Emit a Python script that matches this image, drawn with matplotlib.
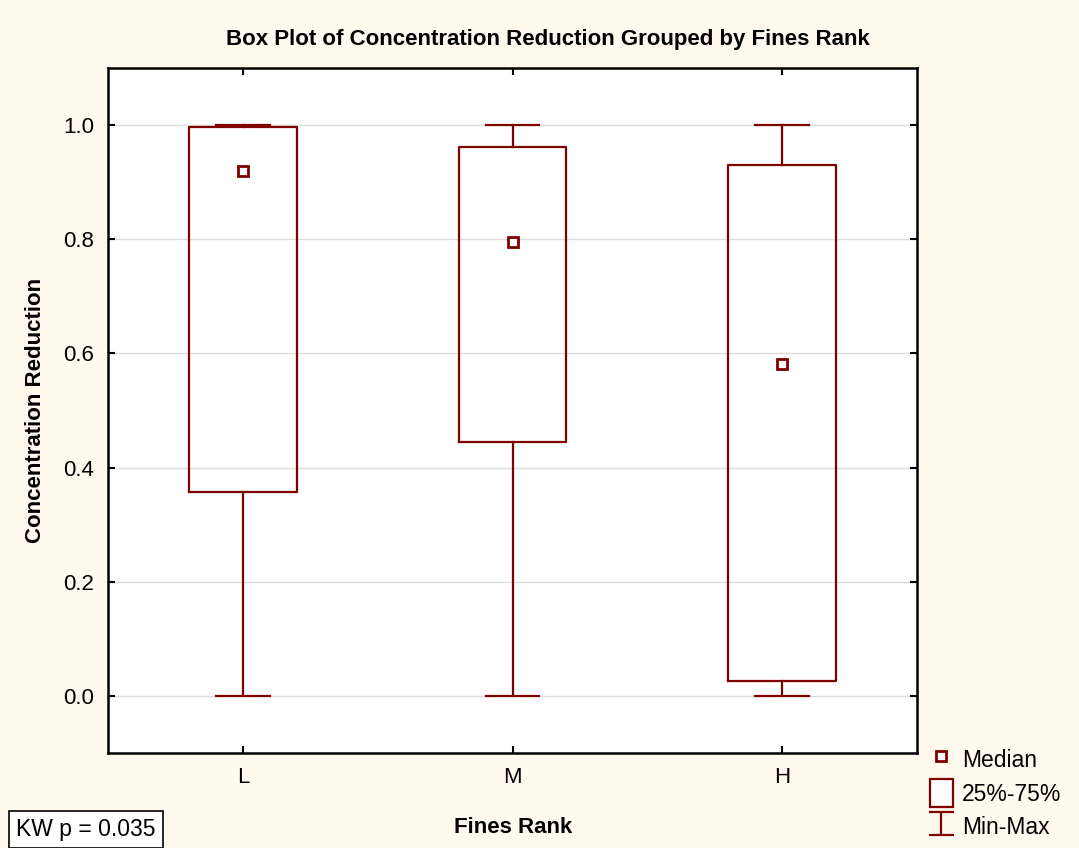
import matplotlib
matplotlib.use("Agg")
import matplotlib.pyplot as plt
from matplotlib.patches import Rectangle
from matplotlib.lines import Line2D
import numpy as np

plt.rcParams['font.family'] = ['Liberation Sans', 'DejaVu Sans']

groups = ['L', 'M', 'H']
mins = [0.0, 0.0, 0.0]
q1s = [0.358, 0.444, 0.026]
medians = [0.919, 0.796, 0.581]
q3s = [0.997, 0.961, 0.930]
maxs = [1.0, 1.0, 1.0]

red = '#800000'
bg = '#FFF9EE'

fig = plt.figure(figsize=(10.79, 8.48), dpi=100, facecolor=bg)
ax = fig.add_axes([0.1001, 0.112, 0.7498, 0.8078])

stats = []
for g, lo, a, m, b, hi in zip(groups, mins, q1s, medians, q3s, maxs):
    stats.append(dict(label=g, whislo=lo, q1=a, med=m, q3=b, whishi=hi, fliers=[]))

pos = np.arange(1, len(groups) + 1)
ax.bxp(stats, positions=pos, widths=0.4, capwidths=0.2, showfliers=False,
       boxprops=dict(color=red, lw=1.6),
       whiskerprops=dict(color=red, lw=1.6),
       capprops=dict(color=red, lw=1.6),
       medianprops=dict(visible=False))
ax.plot(pos, medians, 's', ms=7, mfc='white', mec=red, mew=2, ls='none', zorder=5)

ax.set_xlim(0.5, 3.5)
ax.set_ylim(-0.1, 1.1)
ax.set_yticks([0.0, 0.2, 0.4, 0.6, 0.8, 1.0])
ax.set_yticklabels(['0.0', '0.2', '0.4', '0.6', '0.8', '1.0'])
ax.set_xticks(pos)
ax.set_xticklabels(groups)
ax.yaxis.grid(True, color='#DDDDDD', lw=1)
ax.set_axisbelow(True)
ax.tick_params(direction='in', length=5, width=1.5, top=True, right=True,
               labelsize=16, pad=10, colors='black')
for s in ax.spines.values():
    s.set_linewidth(1.8)

fig.text(0.508, 0.953, 'Box Plot of Concentration Reduction Grouped by Fines Rank',
         ha='center', va='center', fontsize=16, fontweight='bold')
fig.text(0.033, 0.516, 'Concentration Reduction', rotation=90, ha='center',
         va='center', fontsize=16, fontweight='bold')
fig.text(0.476, 0.024, 'Fines Rank', ha='center', va='center', fontsize=16,
         fontweight='bold')
fig.text(0.015, 0.022, 'KW p = 0.035', ha='left', va='center', fontsize=16.5,
         bbox=dict(boxstyle='square,pad=0.3', fc='white', ec='black', lw=1.2))

h_med = Line2D([], [], marker='s', ms=7, mfc='white', mec=red, mew=2, ls='none')
h_box = Rectangle((0, 0), 1, 1, fc='white', ec=red, lw=1.6)
h_mm = ax.errorbar([np.nan], [np.nan], yerr=[[np.nan], [np.nan]], fmt='none',
                   ecolor=red, elinewidth=1.6, capsize=9, capthick=1.6)
fig.legend([h_med, h_box, h_mm], ['Median', '25%-75%', 'Min-Max'],
           loc='upper left', bbox_to_anchor=(0.847, 0.14), frameon=False,
           fontsize=16.5, handlelength=1.0, handleheight=1.5, handletextpad=0.4,
           labelspacing=0.25, borderpad=0.2)

fig.savefig('out.png', dpi=100, facecolor=bg)
